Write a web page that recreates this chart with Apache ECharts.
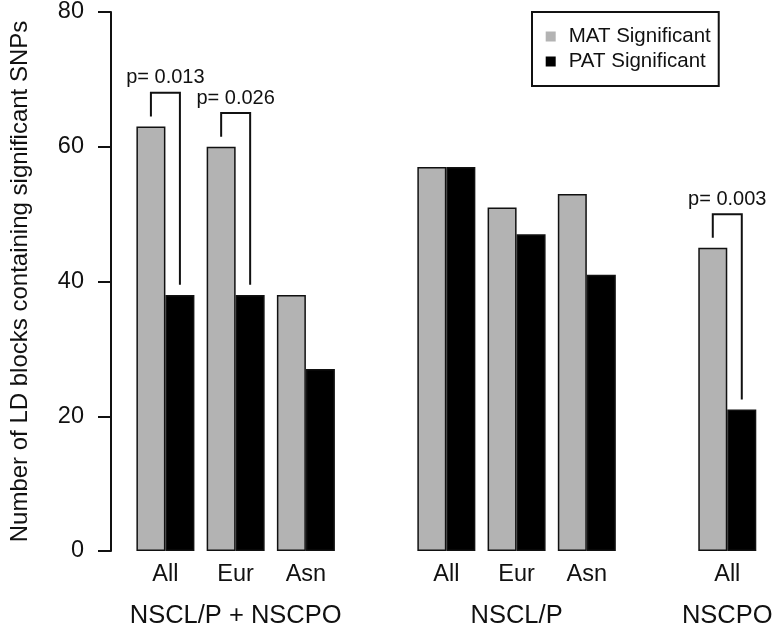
<!DOCTYPE html>
<html>
<head>
<meta charset="utf-8">
<script src="https://cdn.jsdelivr.net/npm/echarts@6/dist/echarts.min.js"></script>
<style>
  html, body { margin: 0; padding: 0; background: #ffffff; }
  #chart { width: 779px; height: 629px; }
</style>
</head>
<body>
<div id="chart"></div>
<script>
// ---- data ----
const groupNames = ['NSCL/P + NSCPO', 'NSCL/P', 'NSCPO'];
const populations = [['All', 'Eur', 'Asn'], ['All', 'Eur', 'Asn'], ['All']];
const matValues = [[63, 60, 38], [57, 51, 53], [45]];
const patValues = [[38, 38, 27], [57, 47, 41], [21]];
const seriesNames = ['MAT Significant', 'PAT Significant'];
const yTicks = [0, 20, 40, 60, 80];
// significance annotations: group index, population index, label
const pGroup = [0, 0, 2];
const pPop = [0, 1, 0];
const pLabels = ['p= 0.013', 'p= 0.026', 'p= 0.003'];

// ---- build category slots (one empty slot between groups) ----
const slotLabels = [];
const slotGroupLabels = [];
const matData = [];
const patData = [];
const slotIndexOf = [];
groupNames.forEach(function (g, gi) {
  if (gi > 0) { slotLabels.push(''); slotGroupLabels.push(''); matData.push('-'); patData.push('-'); }
  slotIndexOf.push([]);
  const pops = populations[gi];
  const mid = Math.floor((pops.length - 1) / 2);
  pops.forEach(function (p, pi) {
    slotIndexOf[gi].push(slotLabels.length);
    slotLabels.push(p);
    slotGroupLabels.push(pi === mid ? g : '');
    matData.push(matValues[gi][pi]);
    patData.push(patValues[gi][pi]);
  });
});
const bracketData = pLabels.map(function (lab, i) {
  const gi = pGroup[i], pi = pPop[i];
  return [slotIndexOf[gi][pi], matValues[gi][pi], patValues[gi][pi], lab];
});

const FONT = 'Liberation Sans, Arial, Helvetica, sans-serif';
const INK = '#111111';
const BAR_W = 29;

const chart = echarts.init(document.getElementById('chart'), null, { renderer: 'canvas' });
chart.setOption({
  backgroundColor: '#ffffff',
  animation: false,
  textStyle: { fontFamily: FONT, color: INK },
  grid: { left: 119.3, right: 16.6, top: 12, bottom: 78, containLabel: false },
  legend: {
    data: seriesNames,
    orient: 'vertical',
    left: 532,
    top: 12,
    padding: [14, 8, 14, 13.7],
    itemWidth: 10,
    itemHeight: 10,
    itemGap: 4,
    icon: 'rect',
    borderColor: INK,
    borderWidth: 2,
    itemStyle: { borderWidth: 0 },
    textStyle: { fontFamily: FONT, fontSize: 20.5, lineHeight: 20, color: INK, padding: [0, 0, 0, 8] }
  },
  xAxis: [
    {
      type: 'category',
      data: slotLabels,
      axisLine: { show: false },
      axisTick: { show: false },
      axisLabel: { interval: 0, margin: 12, fontSize: 23.5, color: INK, fontFamily: FONT }
    },
    {
      type: 'category',
      data: slotGroupLabels,
      position: 'bottom',
      axisLine: { show: false },
      axisTick: { show: false },
      axisLabel: { interval: 0, margin: 52, fontSize: 25.5, color: INK, fontFamily: FONT }
    }
  ],
  yAxis: {
    type: 'value',
    min: yTicks[0],
    max: yTicks[yTicks.length - 1],
    interval: yTicks[1] - yTicks[0],
    offset: 19.3,
    name: 'Number of LD blocks containing significant SNPs',
    nameLocation: 'middle',
    nameGap: 79,
    nameTextStyle: { fontSize: 24, color: INK, fontFamily: FONT },
    axisLine: { show: true, lineStyle: { color: INK, width: 2 } },
    axisTick: { show: true, length: 13, lineStyle: { color: INK, width: 2 } },
    axisLabel: { margin: 27, fontSize: 23.5, color: INK, fontFamily: FONT },
    splitLine: { show: false }
  },
  series: [
    {
      name: seriesNames[0],
      type: 'bar',
      data: matData,
      barWidth: BAR_W,
      barGap: '0%',
      itemStyle: { color: '#b3b3b3', borderColor: INK, borderWidth: 1.5 }
    },
    {
      name: seriesNames[1],
      type: 'bar',
      data: patData,
      barWidth: BAR_W,
      barGap: '0%',
      itemStyle: { color: '#000000', borderColor: INK, borderWidth: 1.5 }
    },
    {
      type: 'custom',
      data: bracketData,
      encode: { x: 0, y: [1, 2] },
      z: 5,
      silent: true,
      renderItem: function (params, api) {
        const idx = api.value(0);
        const mat = api.value(1);
        const pat = api.value(2);
        const label = bracketData[params.dataIndex][3];
        const cx = api.coord([idx, 0])[0];
        const lx = cx - BAR_W / 2;
        const rx = cx + BAR_W / 2;
        const topY = api.coord([idx, Math.max(mat, pat) + 5])[1];
        const ly = api.coord([idx, mat + 1.5])[1];
        const ry = api.coord([idx, pat + 1.5])[1];
        return {
          type: 'group',
          children: [
            {
              type: 'polyline',
              shape: { points: [[lx, ly], [lx, topY], [rx, topY], [rx, ry]] },
              style: { stroke: INK, lineWidth: 2, fill: null }
            },
            {
              type: 'text',
              style: {
                text: label, x: cx, y: topY - 15, align: 'center', verticalAlign: 'middle',
                font: '20px ' + FONT, fill: INK
              }
            }
          ]
        };
      }
    }
  ]
});
</script>
</body>
</html>
